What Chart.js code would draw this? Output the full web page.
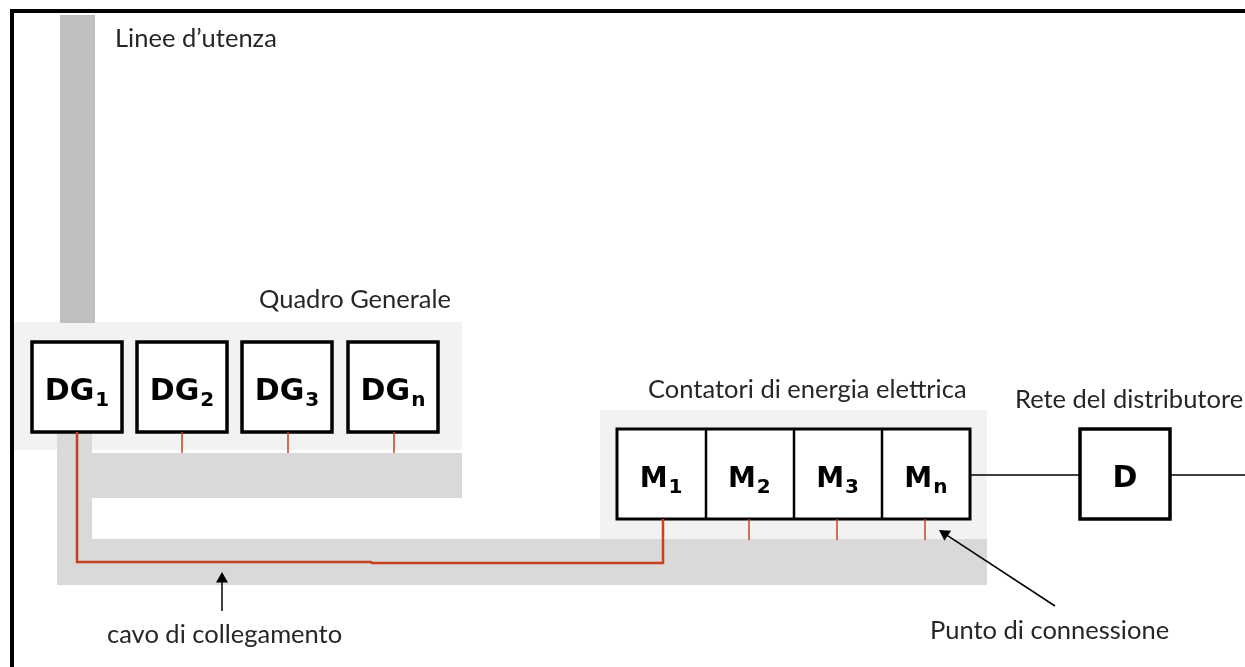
<!DOCTYPE html>
<html>
<head>
<meta charset="utf-8">
<script src="https://cdn.jsdelivr.net/npm/chart.js@4.4.1/dist/chart.umd.min.js"></script>
<style>
  html, body { margin: 0; padding: 0; background: #fff; }
  #schema { display: block; }
</style>
</head>
<body>
<canvas id="schema" width="1245" height="667"></canvas>
<script>
// schema: rettangoli come [x0, y0, x1, y1] nelle unità del disegno (y verso il basso)
const pannelli = [[14, 322, 462, 450], [600, 410, 987, 539]];
const canaline = [[57, 432, 92, 585], [92, 453, 462, 498], [57, 539, 987, 585]];
const lineeUtenza = [60, 15, 95, 323];
const quadriDG = [[32, 342, 122, 432], [137, 342, 227, 432], [242, 342, 332, 432], [348, 342, 438, 432]];
const pediciDG = ['1', '2', '3', 'n'];
const contatori = [617, 429, 970, 519];
const divisori = [706, 794, 882];
const pediciM = ['1', '2', '3', 'n'];
const distributore = [1080, 429, 1170, 519];

// collegamenti
const cavo = [[77, 432], [77, 562], [371, 562], [372, 563], [663, 563], [663, 519]];
const attacchiDG = [182, 288, 394];   // da y 432 a 453
const attacchiM = [749, 837, 925];    // da y 519 a 540
const rete = [[[970, 475], [1080, 475]], [[1170, 475], [1245, 475]]];
const cornice = [[12, 690], [12, 11], [1260, 11]];
const frecce = [[[222, 611], [222, 572]], [[1055, 606], [939, 530]]];

// testi: [testo, x sinistra, linea di base]
const etichette = [
  ['Linee d\u2019utenza', 115, 47],
  ['Quadro Generale', 259, 308],
  ['Contatori di energia elettrica', 648, 398],
  ['Rete del distributore', 1015, 408],
  ['cavo di collegamento', 107, 643],
  ['Punto di connessione', 930, 639]
];

const ROSSO = '#c8421e';
const datasets = [];

function pt(p) { return { x: p[0], y: p[1] }; }

function area(r, colore) {
  datasets.push({
    data: [{ x: r[0], y: r[1] }, { x: r[2], y: r[1] }],
    showLine: true, fill: { value: r[3] }, backgroundColor: colore,
    borderWidth: 0, borderColor: 'rgba(0,0,0,0)', pointRadius: 0
  });
}

function tratto(punti, colore, spessore, cap) {
  datasets.push({
    data: punti.map(pt), showLine: true, fill: false,
    borderColor: colore, borderWidth: spessore, pointRadius: 0,
    borderJoinStyle: 'miter', borderCapStyle: cap || 'butt', tension: 0
  });
}

function riquadro(r, spessore) {
  area(r, '#ffffff');
  tratto([[r[0], r[1]], [r[2], r[1]], [r[2], r[3]], [r[0], r[3]], [r[0], r[1]], [r[2], r[1]]], '#000000', spessore, 'square');
}

// sfondo
pannelli.forEach(r => area(r, '#f2f2f2'));
area(lineeUtenza, '#bfbfbf');
canaline.forEach(r => area(r, '#d9d9d9'));

// quadri e contatori
quadriDG.forEach(r => riquadro(r, 3.5));
riquadro(contatori, 3);
divisori.forEach(x => tratto([[x, contatori[1]], [x, contatori[3]]], '#000000', 2.5));
riquadro(distributore, 3.5);
rete.forEach(l => tratto(l, '#000000', 1.5));

// cavi rossi
tratto(cavo, ROSSO, 2.5);
attacchiDG.forEach(x => tratto([[x, 432], [x, 453]], ROSSO, 1.5));
attacchiM.forEach(x => tratto([[x, 519], [x, 540]], ROSSO, 1.5));

// cornice
tratto(cornice, '#000000', 4, 'square');

// frecce
frecce.forEach(f => {
  const [a, b] = f;
  const dx = b[0] - a[0], dy = b[1] - a[1];
  const len = Math.hypot(dx, dy);
  const r = 7;
  tratto([a, [b[0] - dx / len * r, b[1] - dy / len * r]], '#000000', 1.5);
  datasets.push({
    data: [{ x: b[0] - dx / len * r, y: b[1] - dy / len * r }],
    showLine: false, pointStyle: 'triangle', pointRadius: r,
    pointRotation: Math.atan2(dx, -dy) * 180 / Math.PI,
    pointBackgroundColor: '#000000', pointBorderWidth: 0
  });
});

// ordine di disegno: i primi in fondo
datasets.forEach((d, i) => { d.order = datasets.length - i; });

function scriviBox(ctx, xs, ys, r, base, pedice, corpo) {
  const cx = xs.getPixelForValue((r[0] + r[2]) / 2);
  const by = ys.getPixelForValue((r[1] + r[3]) / 2) + 13;
  const fBase = 'bold ' + corpo + 'px "DejaVu Sans"';
  const fPed = 'bold 20px "DejaVu Sans"';
  ctx.font = fBase;
  const w1 = ctx.measureText(base).width;
  ctx.font = fPed;
  const w2 = pedice ? ctx.measureText(pedice).width + 1 : 0;
  const x0 = cx - (w1 + w2) / 2;
  ctx.font = fBase;
  ctx.fillText(base, x0, by);
  if (pedice) {
    ctx.font = fPed;
    ctx.fillText(pedice, x0 + w1 + 1, by + 6);
  }
}

const testiPlugin = {
  id: 'testi',
  beforeDraw(chart) {
    const ctx = chart.ctx;
    ctx.save();
    ctx.fillStyle = '#ffffff';
    ctx.fillRect(0, 0, chart.width, chart.height);
    ctx.restore();
  },
  afterDatasetsDraw(chart) {
    const ctx = chart.ctx;
    const xs = chart.scales.x, ys = chart.scales.y;
    ctx.save();
    ctx.textBaseline = 'alphabetic';
    ctx.textAlign = 'left';
    ctx.fillStyle = '#262626';
    ctx.font = '25.5px Lato';
    etichette.forEach(([t, x, y]) => ctx.fillText(t, xs.getPixelForValue(x), ys.getPixelForValue(y)));

    ctx.fillStyle = '#000000';
    quadriDG.forEach((r, i) => scriviBox(ctx, xs, ys, r, 'DG', pediciDG[i], 30));
    const passo = (contatori[2] - contatori[0]) / pediciM.length;
    pediciM.forEach((p, i) => {
      const r = [contatori[0] + i * passo, contatori[1], contatori[0] + (i + 1) * passo, contatori[3]];
      scriviBox(ctx, xs, ys, r, 'M', p, 28);
    });
    scriviBox(ctx, xs, ys, distributore, 'D', '', 30);
    ctx.restore();
  }
};

new Chart(document.getElementById('schema'), {
  type: 'scatter',
  data: { datasets },
  options: {
    responsive: false,
    animation: false,
    layout: { padding: 0, autoPadding: false },
    plugins: { legend: { display: false }, tooltip: { enabled: false } },
    events: [],
    scales: {
      x: { type: 'linear', min: 0, max: 1245, display: false },
      y: { type: 'linear', min: 0, max: 667, reverse: true, display: false }
    }
  },
  plugins: [testiPlugin]
});
</script>
</body>
</html>
